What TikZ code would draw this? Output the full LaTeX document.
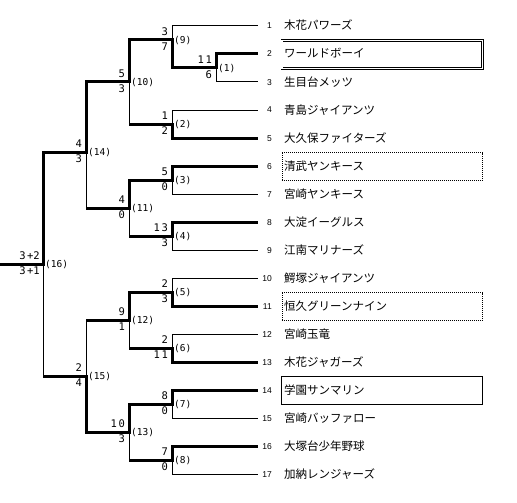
\documentclass[tikz,border=0pt]{standalone}
\usepackage{fontspec}
\newfontfamily\jpf{Noto Sans CJK JP}
\newfontfamily\monof{DejaVu Sans Mono}
\newfontfamily\numf{Liberation Sans}
\newcommand\ds[1]{\makebox[8pt]{#1}}
\begin{document}
\begin{tikzpicture}[x=1pt,y=-1pt,
  win/.style={line width=3pt,line join=miter,line cap=butt},
  lose/.style={line width=1pt,line cap=butt},
  sc/.style={inner sep=0pt,font=\monof\fontsize{10.5}{11}\selectfont},
  lab/.style={inner sep=0pt,font=\monof\fontsize{9.5}{10}\selectfont},
  num/.style={inner sep=0pt,font=\numf\fontsize{8.5}{9}\selectfont},
  nm/.style={inner sep=0pt,font=\jpf\fontsize{11.5}{12}\selectfont},
  boxbase/.style={inner sep=0pt,minimum width=200.5pt,minimum height=28pt},
  dblbox/.style={boxbase,draw=black,line width=0.9pt,double=white,double distance=1.1pt},
  dotbox/.style={boxbase,draw=black,line width=0.8pt,dash pattern=on 0.8pt off 1.2pt},
  solbox/.style={boxbase,draw=black,line width=1pt}]
\useasboundingbox (0,0) rectangle (517,503);
% team line ends
\foreach \n in {1,...,17}{\coordinate (t\n) at (258,{26+28*(\n-1)});}
% match junctions
\coordinate (m1) at (216,68);
\coordinate (m2) at (172,124);
\coordinate (m3) at (172,180);
\coordinate (m4) at (172,236);
\coordinate (m5) at (172,292);
\coordinate (m6) at (172,348);
\coordinate (m7) at (172,404);
\coordinate (m8) at (172,460);
\coordinate (m9) at (172,40);
\coordinate (m10) at (129,82);
\coordinate (m11) at (129,208);
\coordinate (m12) at (129,320);
\coordinate (m13) at (129,432);
\coordinate (m14) at (86,152);
\coordinate (m15) at (86,376);
\coordinate (m16) at (43,264);
\coordinate (start) at (0,264);
% boxes
\node[dblbox] (b2) at (382.2,54.5) {};
\node[dotbox] (b6) at (382.2,166.5) {};
\node[dotbox] (b11) at (382.2,306.5) {};
\node[solbox] (b14) at (382.2,390.5) {};
% losing lines
\draw[lose] (m16) -- (m16 |- m15);
\draw[lose] (m14) -- (m14 |- m11);
\draw[lose] (m10) -- (m10 |- m2);
\draw[lose] (m9) |- (t1);
\draw[lose] (m1) |- (t3);
\draw[lose] (m2) |- (t4);
\draw[lose] (m3) |- (t7);
\draw[lose] (m4) |- (t9);
\draw[lose] (m11) -- (m11 |- m4);
\draw[lose] (m15) -- (m15 |- m12);
\draw[lose] (m12) -- (m12 |- m6);
\draw[lose] (m5) |- (t10);
\draw[lose] (m6) |- (t12);
\draw[lose] (m13) -- (m13 |- m8);
\draw[lose] (m7) |- (t15);
\draw[lose] (m8) |- (t17);
% winning lines
\draw[win] (start) -- (m16) |- (m14) |- (m10) |- (m9) |- (m1) |- (t2);
\draw[win] (m14 |- m11) -- (m11) |- (m3) |- (t6);
\draw[win] (m11 |- m4) -- (m4) |- (t8);
\draw[win] (m10 |- m2) -- (m2) |- (t5);
\draw[win] (m16 |- m15) -- (m15) |- (m13) |- (m7) |- (t14);
\draw[win] (m15 |- m12) -- (m12) |- (m5) |- (t11);
\draw[win] (m12 |- m6) -- (m6) |- (t13);
\draw[win] (m13 |- m8) -- (m8) |- (t16);
% match labels
\newcommand\match[4]{%
  \node[sc,anchor=base east] (#1top) at ([xshift=-3pt,yshift=4.5pt]#1) {#2};
  \node[sc,anchor=base east] (#1bot) at ([xshift=-3pt,yshift=-10.5pt]#1) {#3};
  \node[lab,anchor=west] (#1lab) at ([xshift=2pt,yshift=-0.5pt]#1) {(#4)};}
\match{m1}{\ds1\ds1}{\ds6}{1}
\match{m2}{\ds1}{\ds2}{2}
\match{m3}{\ds5}{\ds0}{3}
\match{m4}{\ds1\ds3}{\ds3}{4}
\match{m5}{\ds2}{\ds3}{5}
\match{m6}{\ds2}{\ds1\ds1}{6}
\match{m7}{\ds8}{\ds0}{7}
\match{m8}{\ds7}{\ds0}{8}
\match{m9}{\ds3}{\ds7}{9}
\match{m10}{\ds5}{\ds3}{10}
\match{m11}{\ds4}{\ds0}{11}
\match{m12}{\ds9}{\ds1}{12}
\match{m13}{\ds1\ds0}{\ds3}{13}
\match{m14}{\ds4}{\ds3}{14}
\match{m15}{\ds2}{\ds4}{15}
\match{m16}{3\hspace{1.5pt}+2}{3\hspace{1.5pt}+1}{16}
% teams
\newcommand\team[2]{%
  \node[num,anchor=base east] (n#1) at ([xshift=14pt,yshift=-3pt]t#1) {#1};
  \node[nm,anchor=base west] (name#1) at ([xshift=26pt,yshift=-4pt]t#1) {#2};}
\team{1}{木花パワーズ}
\team{2}{ワールドボーイ}
\team{3}{生目台メッツ}
\team{4}{青島ジャイアンツ}
\team{5}{大久保ファイターズ}
\team{6}{清武ヤンキース}
\team{7}{宮崎ヤンキース}
\team{8}{大淀イーグルス}
\team{9}{江南マリナーズ}
\team{10}{鰐塚ジャイアンツ}
\team{11}{恒久グリーンナイン}
\team{12}{宮崎玉竜}
\team{13}{木花ジャガーズ}
\team{14}{学園サンマリン}
\team{15}{宮崎バッファロー}
\team{16}{大塚台少年野球}
\team{17}{加納レンジャーズ}
\end{tikzpicture}
\end{document}
